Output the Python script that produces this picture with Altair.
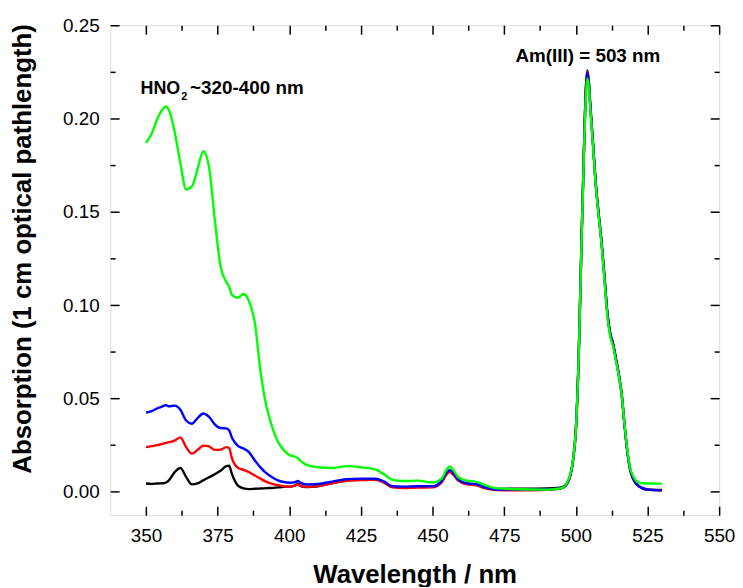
import altair as alt
import pandas as pd

wavelength = [350, 352, 354, 356, 357, 358, 360, 362, 364, 366,
              368, 370, 372, 374, 376, 378, 379, 380, 382, 384,
              386, 388, 390, 392, 394, 396, 398, 400, 402, 403,
              404, 406, 410, 415, 420, 425, 430, 433, 436, 440,
              445, 450, 453, 455, 456, 457, 459, 462, 465, 468,
              472, 480, 490, 495, 497, 499, 500, 501, 502, 503,
              503.5, 504, 504.5, 505, 506, 507, 508, 509, 510, 511,
              512, 513, 514, 515, 516, 517, 518, 519, 520, 522,
              525, 530]

green = [0.187, 0.192, 0.200, 0.2055, 0.2065, 0.2045, 0.193, 0.176, 0.162, 0.1635,
         0.173, 0.1825, 0.174, 0.146, 0.121, 0.1125, 0.110, 0.1055, 0.1040, 0.1060,
         0.102, 0.0905, 0.064, 0.046, 0.035, 0.027, 0.0225, 0.0198, 0.0188, 0.0180,
         0.0165, 0.0145, 0.0132, 0.0128, 0.0138, 0.0132, 0.0120, 0.0095, 0.0065, 0.0058,
         0.0060, 0.0050, 0.0068, 0.0122, 0.0135, 0.0122, 0.0078, 0.0060, 0.0055, 0.0038,
         0.0020, 0.0014, 0.0012, 0.0020, 0.0050, 0.0170, 0.0330, 0.0720, 0.1340, 0.1900,
         0.2120, 0.2215, 0.2170, 0.2060, 0.1850, 0.1630, 0.1470, 0.1320, 0.1130, 0.0940,
         0.0830, 0.0780, 0.0700, 0.0620, 0.0520, 0.0360, 0.0220, 0.0125, 0.0085, 0.0050,
         0.0045, 0.0044]

blue = [0.0425, 0.0432, 0.0448, 0.0460, 0.0465, 0.0458, 0.0462, 0.0440, 0.0382, 0.0365,
        0.0395, 0.0420, 0.0402, 0.0362, 0.0342, 0.0340, 0.0330, 0.0290, 0.0248, 0.0232,
        0.0212, 0.0168, 0.0130, 0.0100, 0.0078, 0.0062, 0.0053, 0.0049, 0.0052, 0.0058,
        0.0048, 0.0040, 0.0042, 0.0055, 0.0068, 0.0071, 0.0070, 0.0056, 0.0030, 0.0028,
        0.0030, 0.0030, 0.0055, 0.0105, 0.0116, 0.0105, 0.0066, 0.0046, 0.0042, 0.0026,
        0.0013, 0.0012, 0.0014, 0.0020, 0.0045, 0.0165, 0.0330, 0.0725, 0.1350, 0.1920,
        0.2150, 0.2245, 0.2195, 0.2075, 0.1860, 0.1640, 0.1480, 0.1330, 0.1145, 0.0955,
        0.0845, 0.0790, 0.0710, 0.0625, 0.0520, 0.0355, 0.0210, 0.0115, 0.0070, 0.0030,
        0.0012, 0.0008]

red = [0.0240, 0.0245, 0.0250, 0.0258, 0.0262, 0.0266, 0.0275, 0.0292, 0.0240, 0.0205,
       0.0225, 0.0248, 0.0244, 0.0225, 0.0226, 0.0240, 0.0235, 0.0180, 0.0130, 0.0118,
       0.0105, 0.0088, 0.0070, 0.0054, 0.0043, 0.0036, 0.0030, 0.0028, 0.0035, 0.0040,
       0.0032, 0.0027, 0.0031, 0.0046, 0.0059, 0.0063, 0.0064, 0.0050, 0.0024, 0.0021,
       0.0023, 0.0024, 0.0048, 0.0095, 0.0106, 0.0095, 0.0060, 0.0040, 0.0036, 0.0020,
       0.0010, 0.0008, 0.0011, 0.0019, 0.0044, 0.0165, 0.0330, 0.0725, 0.1350, 0.1925,
       0.2155, 0.2250, 0.2200, 0.2080, 0.1860, 0.1640, 0.1480, 0.1330, 0.1145, 0.0955,
       0.0845, 0.0790, 0.0710, 0.0625, 0.0520, 0.0355, 0.0210, 0.0115, 0.0070, 0.0028,
       0.0012, 0.0009]

black = [0.0045, 0.0043, 0.0045, 0.0046, 0.0050, 0.0062, 0.0105, 0.0128, 0.0080, 0.0040,
         0.0045, 0.0062, 0.0078, 0.0094, 0.0113, 0.0138, 0.0140, 0.0095, 0.0035, 0.0019,
         0.0015, 0.0017, 0.0018, 0.0020, 0.0021, 0.0024, 0.0027, 0.0028, 0.0034, 0.0042,
         0.0031, 0.0026, 0.0030, 0.0047, 0.0060, 0.0067, 0.0068, 0.0052, 0.0027, 0.0025,
         0.0027, 0.0028, 0.0052, 0.0104, 0.0113, 0.0103, 0.0063, 0.0043, 0.0039, 0.0024,
         0.0016, 0.0017, 0.0018, 0.0024, 0.0048, 0.0170, 0.0335, 0.0730, 0.1360, 0.1935,
         0.2165, 0.2258, 0.2205, 0.2085, 0.1865, 0.1645, 0.1485, 0.1335, 0.1150, 0.0960,
         0.0850, 0.0795, 0.0715, 0.0630, 0.0525, 0.0360, 0.0215, 0.0120, 0.0072, 0.0030,
         0.0013, 0.0010]

series_names = ["black", "red", "blue", "green"]
series_colors = ["#000000", "#ff0000", "#0000ff", "#00ff00"]
series_values = [black, red, blue, green]

x_major = [350, 375, 400, 425, 450, 475, 500, 525, 550]
x_minor = [362.5, 387.5, 412.5, 437.5, 462.5, 487.5, 512.5, 537.5]
y_major = [0.0, 0.05, 0.10, 0.15, 0.20, 0.25]
y_minor = [0.025, 0.075, 0.125, 0.175, 0.225]

ann_text = ["HNO", "2", "~320-400 nm", "Am(III) = 503 nm"]
ann_x = [348.1, 362.3, 365.4, 478.9]
ann_y = [0.2131, 0.2100, 0.2131, 0.2305]
ann_size = [18, 11, 19, 19]

rows = []
for name, vals in zip(series_names, series_values):
    for w, v in zip(wavelength, vals):
        rows.append({"wl": w, "absorb": v, "series": name})
df = pd.DataFrame(rows)

ann = pd.DataFrame({"x": ann_x, "y": ann_y, "text": ann_text, "size": ann_size})

W, H = 614, 494
FONT = "Liberation Sans"
xs = alt.Scale(domain=[337.5, 550], nice=False, zero=False)
ys = alt.Scale(domain=[-0.0125, 0.25], nice=False, zero=False)


def tick_axis(orient, values, size, offset):
    return alt.Axis(orient=orient, values=values, labels=False, domain=False, grid=False,
                    ticks=True, tickSize=size, tickWidth=1.5, tickColor="black",
                    offset=offset, title="")


layers = []

# main labelled axes
main_x = alt.Axis(orient="bottom", values=x_major, ticks=False, tickSize=0, domain=False, grid=False,
                  labelFont=FONT, labelFontSize=19, labelColor="black", labelPadding=12,
                  labelFlush=False, labelOverlap=False, format="d",
                  title="Wavelength / nm", titleFont=FONT, titleFontSize=26, titleFontWeight="bold",
                  titleColor="black", titleBaseline="alphabetic", titleY=68)
main_y = alt.Axis(orient="left", values=y_major, ticks=False, tickSize=0, domain=False, grid=False,
                  labelFont=FONT, labelFontSize=19, labelColor="black", labelPadding=11,
                  labelOverlap=False, format=".2f",
                  title="Absorption (1 cm optical pathlength)", titleFont=FONT, titleFontSize=26,
                  titleFontWeight="bold", titleColor="black", titleBaseline="alphabetic",
                  titleAngle=270, titleX=-80, titleY=225, titleAlign="center")
layers.append(alt.Chart(df).mark_line(strokeOpacity=0).encode(
    x=alt.X("wl:Q", scale=xs, axis=main_x),
    y=alt.Y("absorb:Q", scale=ys, axis=main_y),
    detail="series:N"))

# inward ticks on all four sides
tick_specs = [
    (tick_axis("top", x_major, 9, -H), tick_axis("right", y_major, 9, -W)),
    (tick_axis("top", x_minor, 5, -H), tick_axis("right", y_minor, 5, -W)),
    (tick_axis("bottom", x_major, 9, -H), tick_axis("left", y_major, 9, -W)),
    (tick_axis("bottom", x_minor, 5, -H), tick_axis("left", y_minor, 5, -W)),
]
for ax_x, ax_y in tick_specs:
    layers.append(alt.Chart(df).mark_line(strokeOpacity=0).encode(
        x=alt.X("wl:Q", scale=xs, axis=ax_x),
        y=alt.Y("absorb:Q", scale=ys, axis=ax_y),
        detail="series:N"))

# spectra
for name, color in zip(series_names, series_colors):
    layers.append(alt.Chart(df).transform_filter(alt.datum.series == name)
                  .mark_line(color=color, strokeWidth=2.4, interpolate="monotone")
                  .encode(x=alt.X("wl:Q", scale=xs, axis=None),
                          y=alt.Y("absorb:Q", scale=ys, axis=None)))

# annotations
for sz in sorted(set(ann_size)):
    layers.append(alt.Chart(ann).transform_filter(alt.datum.size == sz)
                  .mark_text(font=FONT, fontSize=sz, fontWeight="bold", color="black",
                             align="left", baseline="alphabetic")
                  .encode(x=alt.X("x:Q", scale=xs, axis=None),
                          y=alt.Y("y:Q", scale=ys, axis=None),
                          text="text:N"))

chart = alt.layer(*layers).resolve_axis(x="independent", y="independent").properties(
    width=W, height=H, autosize="none",
    padding={"left": 103, "top": 15, "right": 16, "bottom": 70},
).configure_view(stroke="black", strokeWidth=1.5).configure(background="white")

chart.save("out.html", embed_options={"renderer": "svg", "actions": False})
